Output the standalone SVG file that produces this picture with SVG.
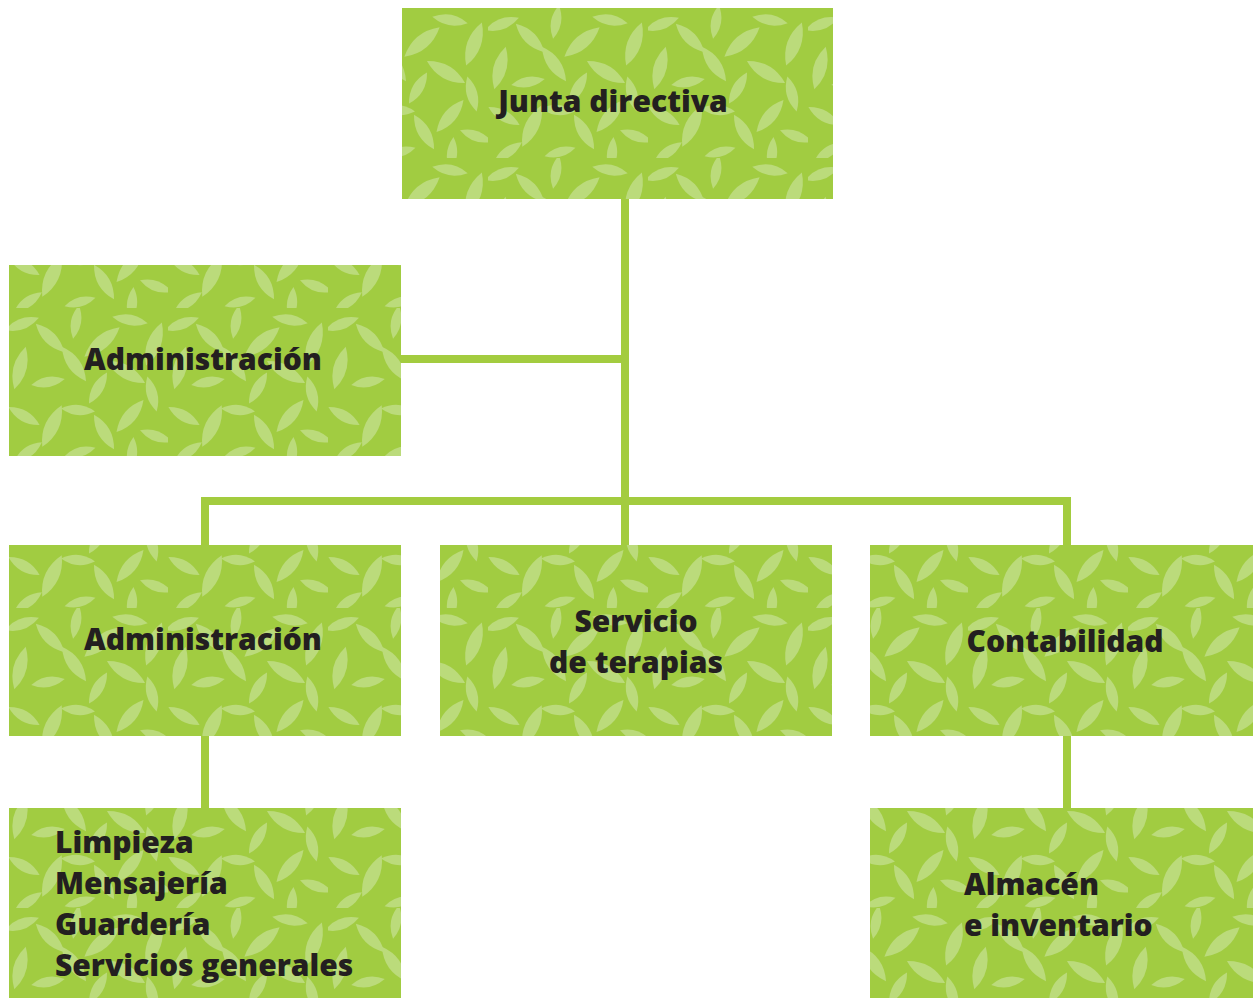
<svg xmlns="http://www.w3.org/2000/svg" width="1253" height="998" viewBox="0 0 1253 998">
<style>
.box{fill:url(#leaves);}
.lbl{font-family:"Open Sans","Noto Sans",sans-serif;font-weight:800;font-size:30px;fill:#231f20;}
.mid{text-anchor:middle;}
.conn{stroke:#a3cc3f;stroke-width:8;fill:none;stroke-linecap:butt;}
</style>
<defs>
<path id="lf" d="M0,-20 Q12,0 0,20 Q-12,0 0,-20Z"/>
<pattern id="leaves" patternUnits="userSpaceOnUse" width="160" height="150" x="8" y="8">
<rect width="160" height="150" fill="#a1cc41"/>
<g fill="#bbdb7b">
<use href="#lf" transform="translate(14,16) rotate(70) scale(0.9)"/>
<use href="#lf" transform="translate(42,30) rotate(135)"/>
<use href="#lf" transform="translate(68,14) rotate(10) scale(0.85)"/>
<use href="#lf" transform="translate(94,34) rotate(50) scale(1.15)"/>
<use href="#lf" transform="translate(122,12) rotate(100) scale(0.9)"/>
<use href="#lf" transform="translate(146,36) rotate(20) scale(1.15)"/>
<use href="#lf" transform="translate(12,60) rotate(15) scale(1.1)"/>
<use href="#lf" transform="translate(40,74) rotate(80) scale(0.85)"/>
<use href="#lf" transform="translate(66,56) rotate(145) scale(1.05)"/>
<use href="#lf" transform="translate(90,80) rotate(30) scale(0.9)"/>
<use href="#lf" transform="translate(118,64) rotate(120) scale(1.1)"/>
<use href="#lf" transform="translate(144,86) rotate(165) scale(0.9)"/>
<use href="#lf" transform="translate(16,108) rotate(120) scale(0.9)"/>
<use href="#lf" transform="translate(44,118) rotate(25) scale(1.15)"/>
<use href="#lf" transform="translate(70,102) rotate(95) scale(0.85)"/>
<use href="#lf" transform="translate(96,124) rotate(150)"/>
<use href="#lf" transform="translate(122,108) rotate(40) scale(1.05)"/>
<use href="#lf" transform="translate(148,128) rotate(110) scale(0.85)"/>
<use href="#lf" transform="translate(20,144) rotate(55) scale(0.85)"/>
<use href="#lf" transform="translate(72,144) rotate(75) scale(0.8)"/>
<use href="#lf" transform="translate(124,146) rotate(5) scale(0.85)"/>
</g>
</pattern>
</defs>
<g id="connectors">
<line class="conn" x1="625" y1="199" x2="625" y2="545"/>
<line class="conn" x1="401" y1="359" x2="625" y2="359"/>
<line class="conn" x1="201" y1="501" x2="1071" y2="501"/>
<line class="conn" x1="205" y1="497" x2="205" y2="545"/>
<line class="conn" x1="1067" y1="497" x2="1067" y2="545"/>
<line class="conn" x1="205" y1="736" x2="205" y2="808"/>
<line class="conn" x1="1067" y1="736" x2="1067" y2="808"/>
</g>
<g id="junta">
<rect class="box" x="402" y="8" width="431" height="191"/>
<text class="lbl mid" x="613" y="112">Junta directiva</text>
</g>
<g id="admin1">
<rect class="box" x="9" y="265" width="392" height="191"/>
<text class="lbl mid" x="203" y="370">Administración</text>
</g>
<g id="admin2">
<rect class="box" x="9" y="545" width="392" height="191"/>
<text class="lbl mid" x="203" y="650">Administración</text>
</g>
<g id="servicio">
<rect class="box" x="440" y="545" width="392" height="191"/>
<text class="lbl mid" x="636" y="632">Servicio</text>
<text class="lbl mid" x="636" y="673">de terapias</text>
</g>
<g id="contabilidad">
<rect class="box" x="870" y="545" width="383" height="191"/>
<text class="lbl mid" x="1065" y="652">Contabilidad</text>
</g>
<g id="servicios-generales">
<rect class="box" x="9" y="808" width="392" height="190"/>
<text class="lbl" x="55" y="853">Limpieza</text>
<text class="lbl" x="55" y="894">Mensajería</text>
<text class="lbl" x="55" y="935">Guardería</text>
<text class="lbl" x="55" y="976">Servicios generales</text>
</g>
<g id="almacen">
<rect class="box" x="870" y="808" width="383" height="190"/>
<text class="lbl" x="964" y="895">Almacén</text>
<text class="lbl" x="964" y="936">e inventario</text>
</g>
</svg>
